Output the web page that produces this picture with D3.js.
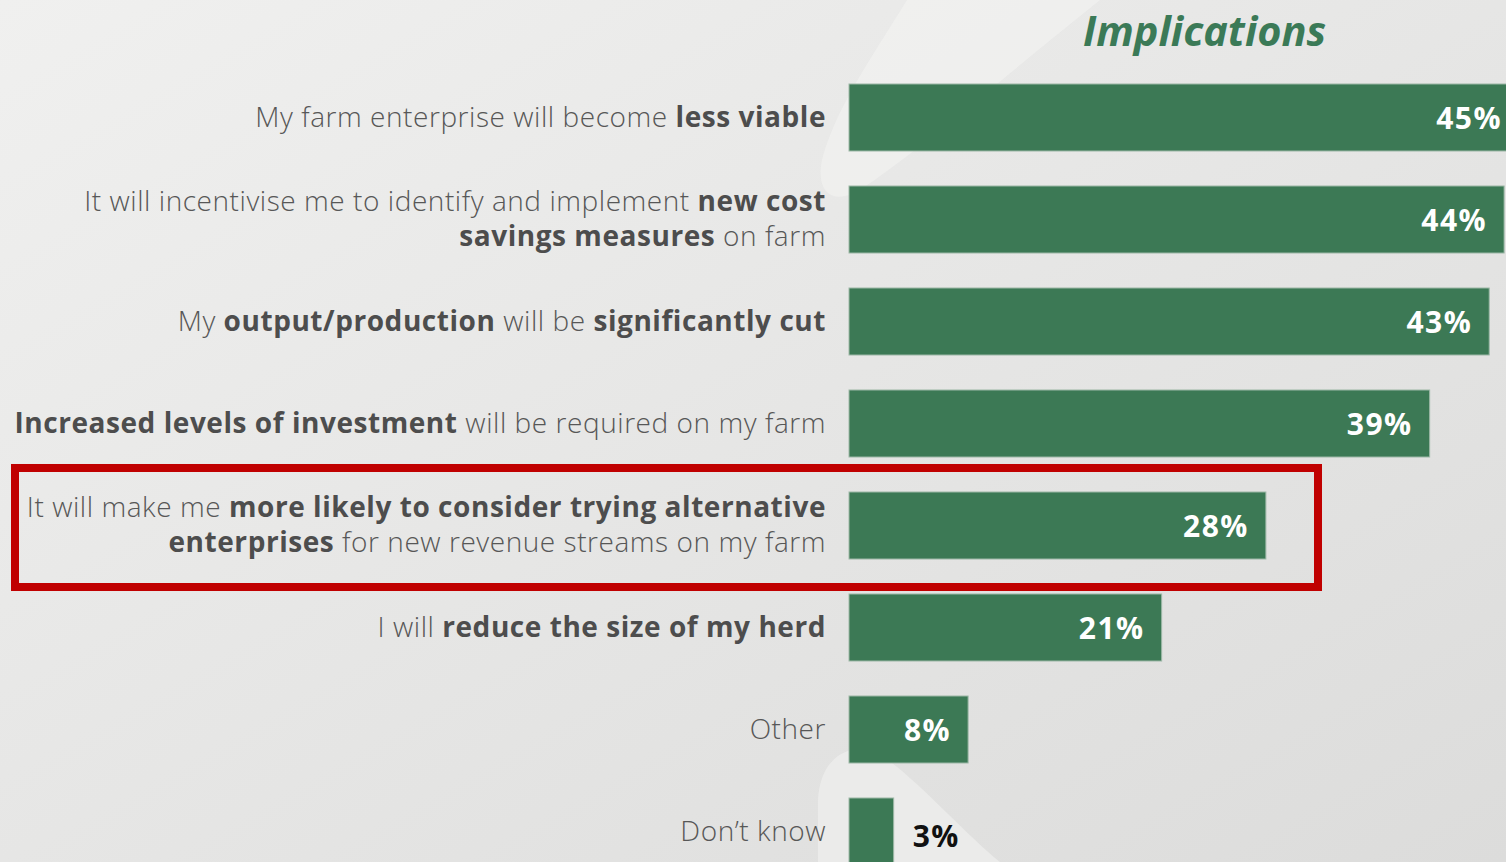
<!DOCTYPE html>
<html>
<head>
<meta charset="utf-8">
<script src="https://cdn.jsdelivr.net/npm/d3@7"></script>
<style>
  body { margin: 0; overflow: hidden; background: #e8e8e7; }
  svg { display: block; }
</style>
</head>
<body>
<div id="chart"></div>
<script>
// label lines, each line is a list of [text, bold] pieces
const labels = [
    [[["My farm enterprise will become ", false], ["less viable", true]]],
    [[["It will incentivise me to identify and implement ", false], ["new cost", true]],
     [["savings measures", true], [" on farm", false]]],
    [[["My ", false], ["output/production", true], [" will be ", false], ["significantly cut", true]]],
    [[["Increased levels of investment", true], [" will be required on my farm", false]]],
    [[["It will make me ", false], ["more likely to consider trying alternative", true]],
     [["enterprises", true], [" for new revenue streams on my farm", false]]],
    [[["I will ", false], ["reduce the size of my herd", true]]],
    [[["Other", false]]],
    [[["Don\u2019t know", false]]]
];
const values = [45, 44, 43, 39, 28, 21, 8, 3];
const highlighted = 4;
const title = "Implications";

const width = 1506, height = 862;
const barLeft = 849;
const font = "'Open Sans', sans-serif";

const svg = d3.select("#chart").append("svg")
    .attr("width", width)
    .attr("height", height);

// background
const defs = svg.append("defs");
const grad = defs.append("linearGradient").attr("id", "bg")
    .attr("x1", "0").attr("y1", "0").attr("x2", "1").attr("y2", "1");
grad.append("stop").attr("offset", "0").attr("stop-color", "#f0f0ef");
grad.append("stop").attr("offset", "1").attr("stop-color", "#dcdcdb");
svg.append("rect").attr("width", width).attr("height", height).attr("fill", "url(#bg)");

// faint swoosh shapes behind the bars
svg.append("path")
    .attr("d", "M907,0 C870,60 835,110 822,160 C815,195 835,205 860,190 C920,150 1000,80 1100,0 Z")
    .attr("fill", "#f3f3f2").attr("opacity", 0.6);
svg.append("path")
    .attr("d", "M818,862 L818,800 C820,760 845,745 870,750 C900,760 960,830 1000,862 Z")
    .attr("fill", "#ededec").attr("opacity", 0.8);

const x = d3.scaleLinear().domain([0, 45]).range([0, 670]);
const y = d3.scaleBand()
    .domain(d3.range(values.length))
    .range([66.5, 66.5 + 102 * values.length])
    .paddingInner(0.343)
    .paddingOuter(0.1715);

// highlight box
const hb = y(highlighted);
svg.append("rect")
    .attr("x", 15)
    .attr("y", hb - 24)
    .attr("width", 1303)
    .attr("height", y.bandwidth() + 52)
    .attr("fill", "none")
    .attr("stroke", "#c00000")
    .attr("stroke-width", 8);

// bars
svg.append("g").selectAll("rect")
    .data(values)
    .join("rect")
    .attr("x", barLeft)
    .attr("y", (d, i) => y(i))
    .attr("width", d => x(d))
    .attr("height", y.bandwidth())
    .attr("fill", "#3c7955")
    .attr("stroke", "#9fb9a8")
    .attr("stroke-width", 1);

// value labels
svg.append("g").selectAll("text")
    .data(values)
    .join("text")
    .attr("x", d => d < 5 ? barLeft + x(d) + 19 : barLeft + x(d) - 17)
    .attr("y", (d, i) => y(i) + y.bandwidth() / 2 + (d < 5 ? 15.5 : 11.5))
    .attr("text-anchor", d => d < 5 ? "start" : "end")
    .attr("font-family", font)
    .attr("font-weight", 700)
    .attr("font-size", 30)
    .attr("letter-spacing", 1.5)
    .attr("fill", d => d < 5 ? "#111" : "#fff")
    .text(d => d + "%");

// category labels
const lab = svg.append("g");
labels.forEach((lines, i) => {
    const c = y(i) + y.bandwidth() / 2;
    lines.forEach((pieces, j) => {
        const t = lab.append("text")
            .attr("x", 826)
            .attr("y", c + 9 + (j - (lines.length - 1) / 2) * 35)
            .attr("text-anchor", "end")
            .attr("font-family", font)
            .attr("font-size", 28)
            .attr("letter-spacing", 0.55)
            .attr("fill", "#585858");
        pieces.forEach(p => {
            t.append("tspan")
                .attr("font-weight", p[1] ? 700 : 300)
                .attr("fill", p[1] ? "#4d4d4d" : "#575757")
                .text(p[0]);
        });
    });
});

// title
svg.append("text")
    .attr("x", 1083)
    .attr("y", 45.5)
    .attr("font-family", font)
    .attr("font-style", "italic")
    .attr("font-weight", 700)
    .attr("font-size", 41.5)
    .attr("fill", "#3b7a57")
    .text(title);
</script>
</body>
</html>
